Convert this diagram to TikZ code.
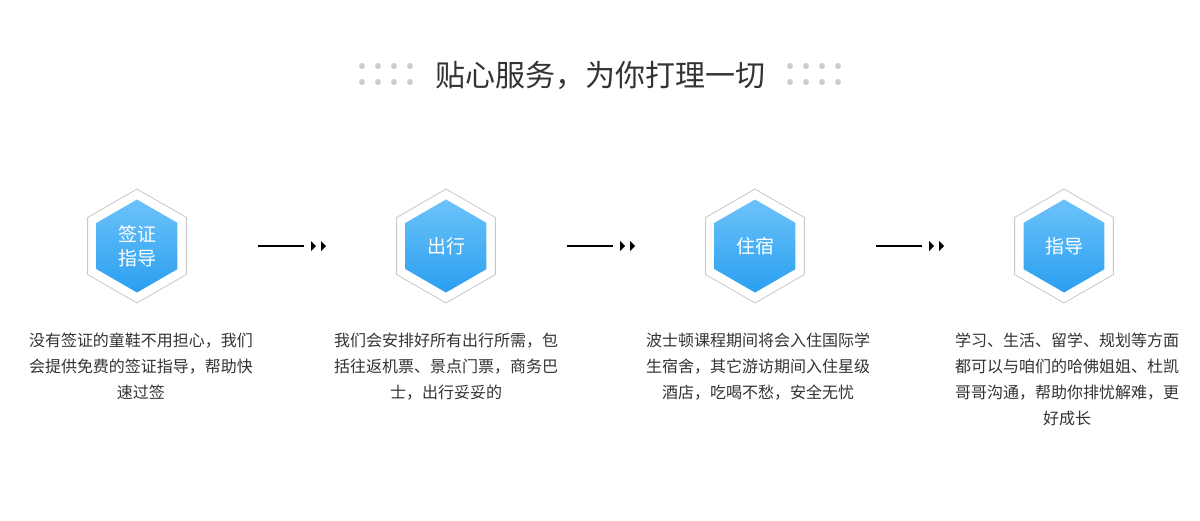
\documentclass[tikz,border=0pt]{standalone}
\usepackage{fontspec}
\setmainfont{Noto Sans CJK SC}
\usetikzlibrary{shapes.geometric}
\definecolor{txt}{HTML}{333333}
\definecolor{dotc}{HTML}{CCCCCC}
\definecolor{hexline}{HTML}{C8C8C8}
\definecolor{btop}{HTML}{6CC2F9}
\definecolor{bbot}{HTML}{2A9FF0}
\tikzset{
  outerhex/.style={regular polygon, regular polygon sides=6, shape border rotate=30,
    minimum size=114pt, inner sep=0pt, draw=hexline, line width=0.8pt},
  innerhex/.style={regular polygon, regular polygon sides=6, shape border rotate=30,
    minimum size=93pt, inner sep=0pt, top color=btop, bottom color=bbot, draw=none,
    text=white, font=\fontsize{19}{24}\selectfont, align=center},
  desc/.style={text=txt, font=\fontsize{16}{26}\selectfont, align=center, anchor=north, inner sep=0pt},
  conn/.style={line width=1.8pt, black},
  tip/.style={fill=black},
  dot/.style={fill=dotc}
}
\begin{document}
\begin{tikzpicture}[x=1pt,y=-1pt]
\useasboundingbox[fill=white] (0,0) rectangle (1200,520);
% title
\node[text=txt, font=\fontsize{30}{36}\selectfont, inner sep=0pt] (title) at (600,75) {贴心服务，为你打理一切};
\foreach \x in {362,378,394,410,790,806,822,838}{
  \foreach \y in {66,82}{
    \fill[dot] (\x,\y) circle (3pt);
  }
}
% hexagons
\foreach \i/\x/\lab in {1/137/{签证\\指导},2/446/{出行},3/755/{住宿},4/1064/{指导}}{
  \node[outerhex] (o\i) at (\x,246) {};
  \node[innerhex] (h\i) at (\x,246) {\lab};
}
% descriptions
\node[desc] (d1) at (141,333) {没有签证的童鞋不用担心，我们\\会提供免费的签证指导，帮助快\\速过签};
\node[desc] (d2) at (446,333) {我们会安排好所有出行所需，包\\括往返机票、景点门票，商务巴\\士，出行妥妥的};
\node[desc] (d3) at (758,333) {波士顿课程期间将会入住国际学\\生宿舍，其它游访期间入住星级\\酒店，吃喝不愁，安全无忧};
\node[desc] (d4) at (1067,333) {学习、生活、留学、规划等方面\\都可以与咱们的哈佛姐姐、杜凯\\哥哥沟通，帮助你排忧解难，更\\好成长};
% connectors
\foreach \i/\s in {1/258,2/567,3/876}{
  \coordinate (a\i s) at (\s,246);
  \coordinate (a\i e) at (\s+46,246);
  \coordinate (t\i a) at (\s+53,246);
  \coordinate (t\i b) at (\s+63,246);
  \draw[conn] (a\i s) -- (a\i e);
  \fill[tip] ([yshift=-5pt]t\i a) -- ([yshift=5pt]t\i a) -- ([xshift=5pt]t\i a) -- cycle;
  \fill[tip] ([yshift=-5pt]t\i b) -- ([yshift=5pt]t\i b) -- ([xshift=5pt]t\i b) -- cycle;
}
\end{tikzpicture}
\end{document}
